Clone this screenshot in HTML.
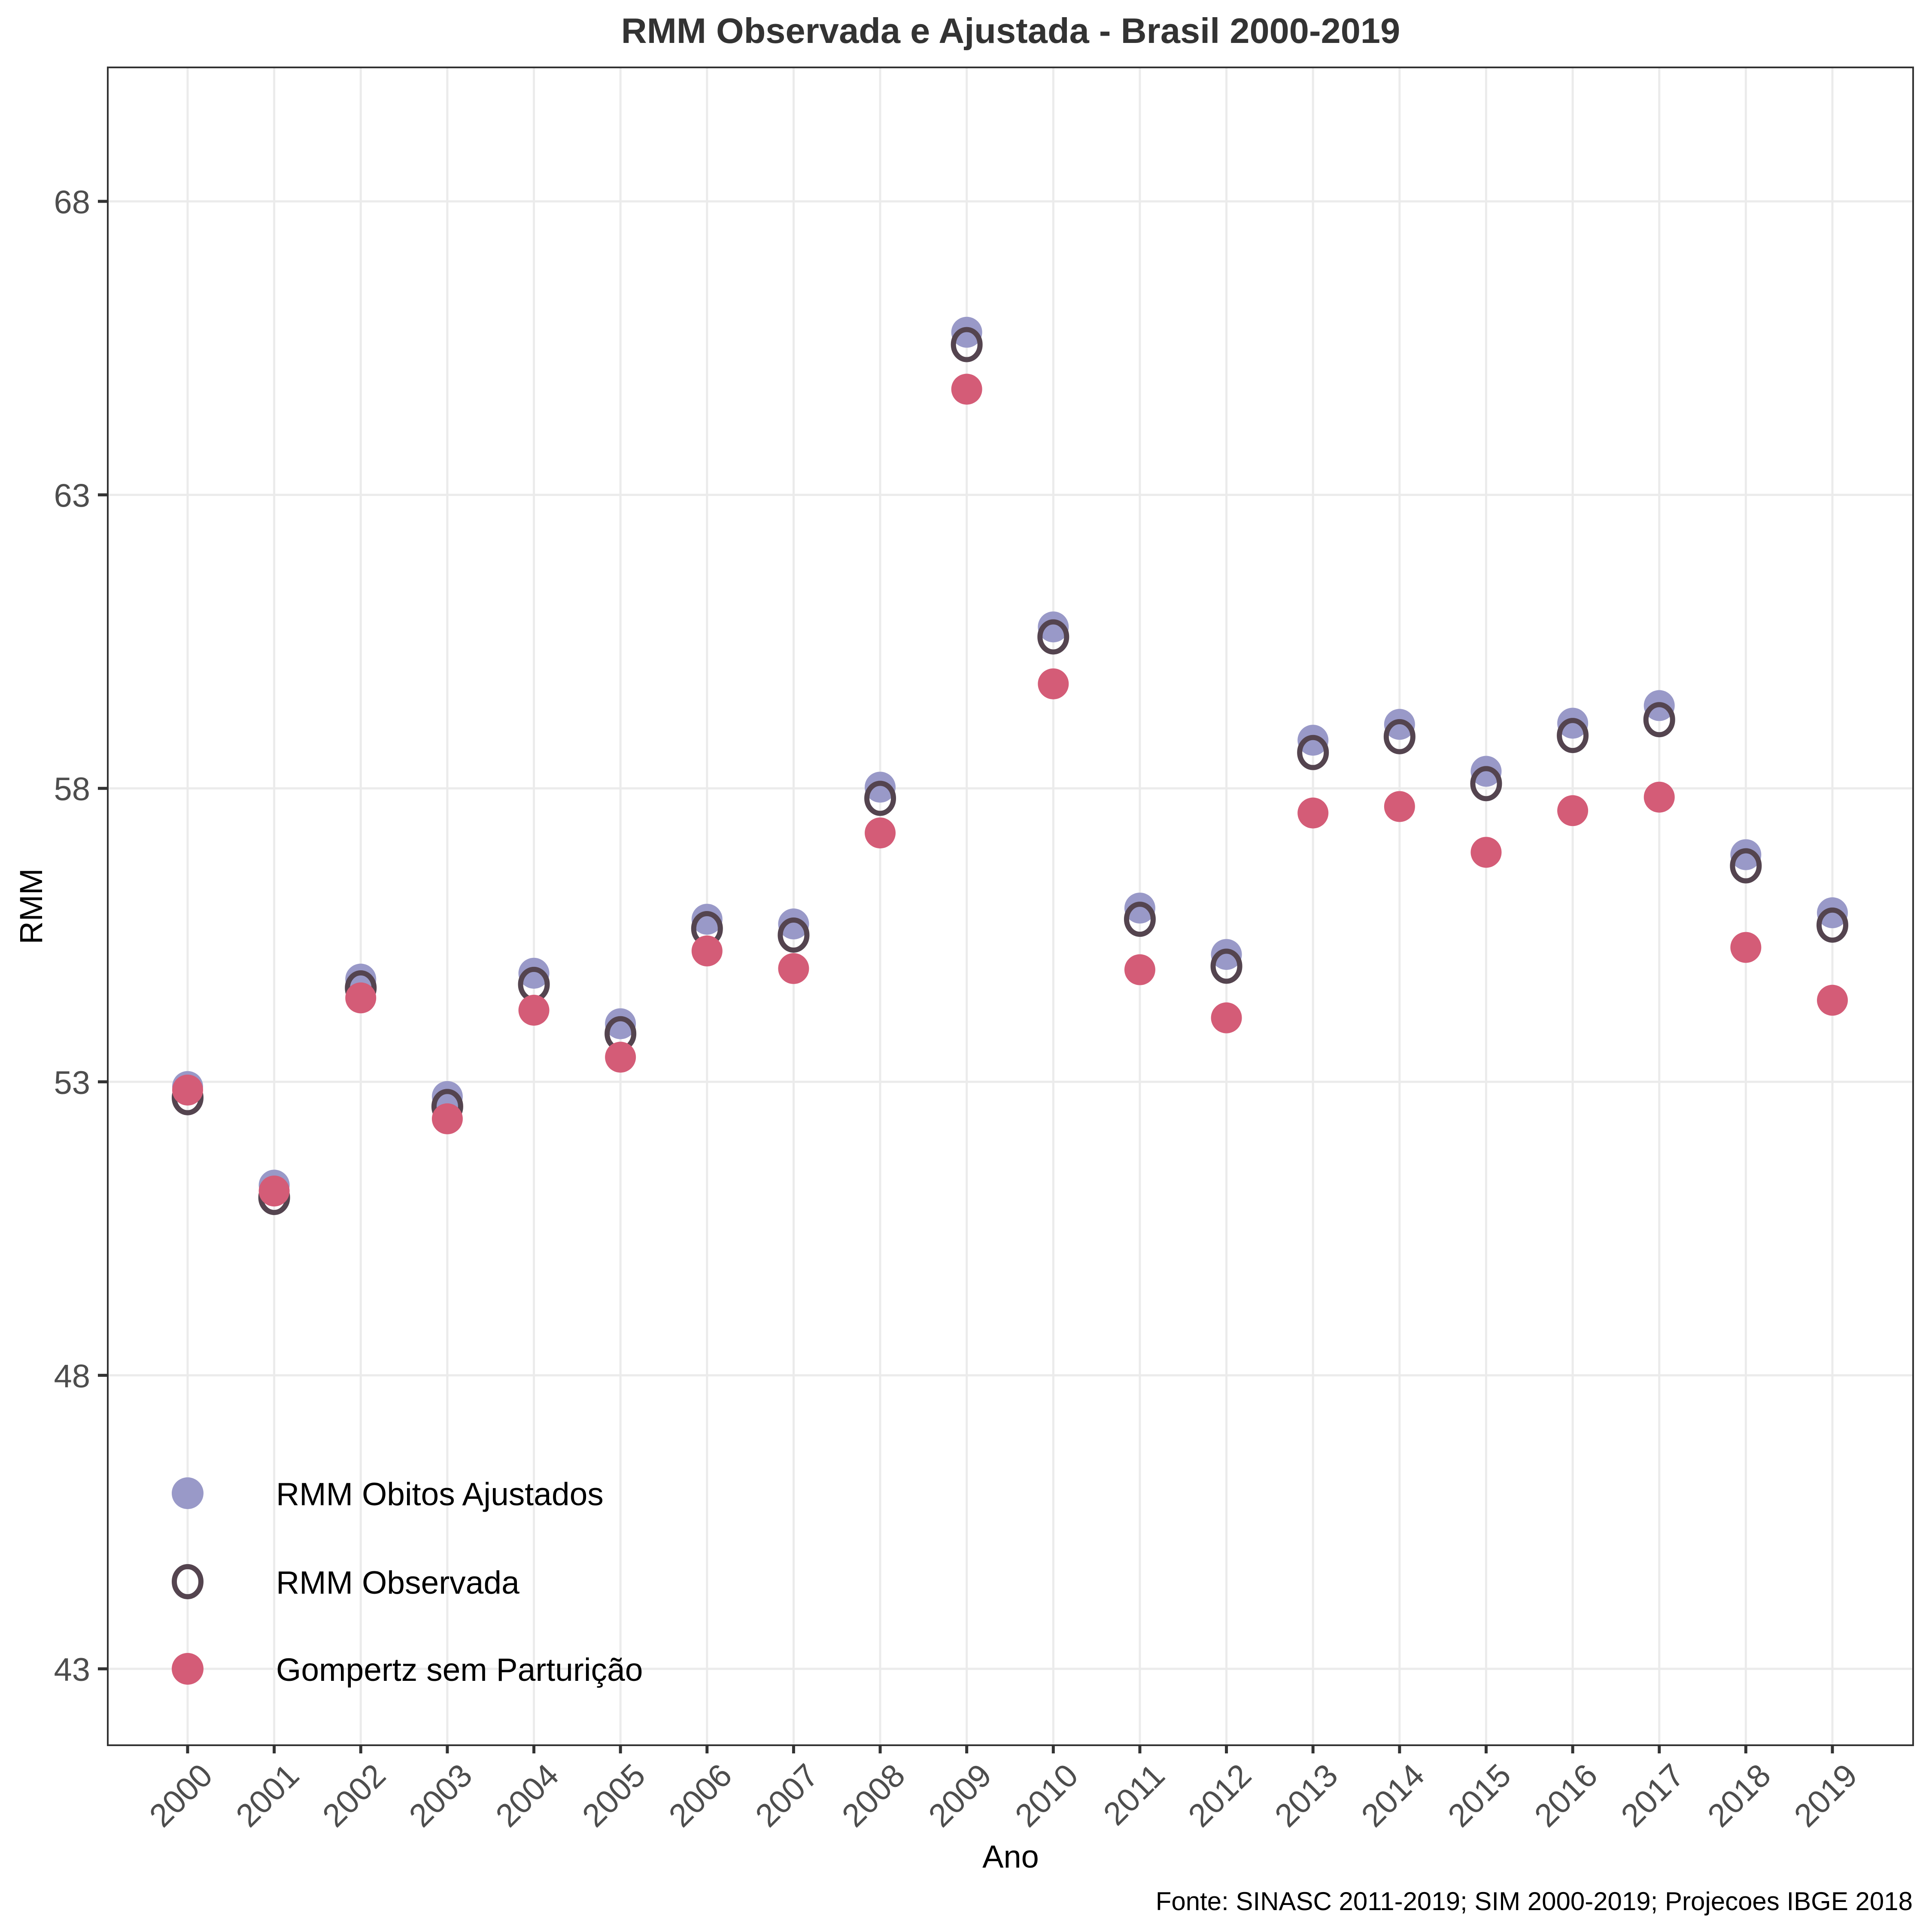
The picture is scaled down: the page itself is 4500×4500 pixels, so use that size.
<!DOCTYPE html>
<html><head><meta charset="utf-8"><style>
html,body{margin:0;padding:0;background:#fff}
svg{display:block}
text{font-family:"Liberation Sans",Arial,sans-serif}
</style></head><body>
<svg id="chart" width="4500" height="4500" viewBox="0 0 4500 4500">
<rect x="0" y="0" width="4500" height="4500" fill="#fff"/>
<text x="2354" y="100" font-size="83" font-weight="bold" fill="#333" text-anchor="middle">RMM Observada e Ajustada - Brasil 2000-2019</text>
<g id="grid"></g>
<g id="points"></g>
<rect x="251" y="157" width="4205" height="3908" fill="none" stroke="#333" stroke-width="4"/>
<g id="axes"></g>
<g>
 <circle cx="437" cy="3478" r="37" fill="#9999c8"/>
 <text x="643" y="3506" font-size="75" fill="#000">RMM Obitos Ajustados</text>
 <ellipse cx="437" cy="3684" rx="31" ry="35" fill="none" stroke="#54444f" stroke-width="12"/>
 <text x="643" y="3712" font-size="75" fill="#000">RMM Observada</text>
 <circle cx="437" cy="3887" r="37" fill="#d45c77"/>
 <text x="643" y="3915" font-size="75" fill="#000">Gompertz sem Parturição</text>
</g>
<text x="2354" y="4350" font-size="74" fill="#000" text-anchor="middle">Ano</text>
<text transform="translate(98,2111) rotate(-90)" font-size="74" fill="#000" text-anchor="middle">RMM</text>
<text x="4455" y="4449" font-size="60" fill="#000" text-anchor="end">Fonte: SINASC 2011-2019; SIM 2000-2019; Projecoes IBGE 2018</text>
</svg>
<script>
const years = [2000,2001,2002,2003,2004,2005,2006,2007,2008,2009,2010,2011,2012,2013,2014,2015,2016,2017,2018,2019];
const ajustados = [52.92,51.24,54.75,52.75,54.85,53.99,55.77,55.69,58.02,65.77,60.75,55.96,55.17,58.82,59.09,58.29,59.11,59.41,56.87,55.88];
const observada = [52.73,51.03,54.60,52.58,54.66,53.82,55.61,55.50,57.83,65.56,60.58,55.77,54.97,58.61,58.88,58.08,58.90,59.17,56.68,55.67];
const gompertz = [52.86,51.14,54.43,52.37,54.22,53.42,55.23,54.93,57.24,64.80,59.78,54.91,54.09,57.58,57.69,56.91,57.62,57.85,55.29,54.39];
const yTicks = [43,48,53,58,63,68];

const NS = "http://www.w3.org/2000/svg";
const X0 = 437, XSTEP = (4268-437)/19;
const Y43 = 3887, YPER = (3887-469)/25;
function xs(yr){ return X0 + (yr-2000)*XSTEP; }
function ys(v){ return Y43 - (v-43)*YPER; }
function mk(tag, attrs, parent){ const e=document.createElementNS(NS,tag); for(const k in attrs) e.setAttribute(k,attrs[k]); parent.appendChild(e); return e; }

const grid=document.getElementById('grid'), axes=document.getElementById('axes'), pts=document.getElementById('points');
yTicks.forEach(t=>{
  const y=ys(t);
  const g=mk('line',{x1:253,x2:4455,y1:y,y2:y,stroke:'#ebebeb','stroke-width':5},grid);
  
  
  const tk=mk('line',{x1:228,x2:251,y1:y,y2:y,stroke:'#333','stroke-width':7},axes);
  
  
  const lb=mk('text',{x:210,y:y+28,'font-size':76,fill:'#4d4d4d','text-anchor':'end'},axes);
  lb.textContent=t;
  
  
});
years.forEach(yr=>{
  const x=xs(yr);
  const g=mk('line',{x1:x,x2:x,y1:159,y2:4063,stroke:'#ebebeb','stroke-width':5},grid);
  
  
  const tk=mk('line',{x1:x,x2:x,y1:4065,y2:4084,stroke:'#333','stroke-width':7},axes);
  
  
  const lb=mk('text',{transform:`translate(${x+24},4102) rotate(-45)`,'font-size':76,fill:'#4d4d4d','text-anchor':'end','dominant-baseline':'hanging'},axes);
  lb.textContent=yr;
  
  
});
years.forEach((yr,i)=>{
  const c=mk('circle',{cx:xs(yr),cy:ys(ajustados[i]),r:36,fill:'#9999c8'},pts);
  
  
});
years.forEach((yr,i)=>{
  const c=mk('ellipse',{cx:xs(yr),cy:ys(observada[i]),rx:31,ry:35,fill:'none',stroke:'#54444f','stroke-width':12},pts);
  
  
});
years.forEach((yr,i)=>{
  const c=mk('circle',{cx:xs(yr),cy:ys(gompertz[i]),r:36,fill:'#d45c77'},pts);
  
  
});
</script>
</body></html>
